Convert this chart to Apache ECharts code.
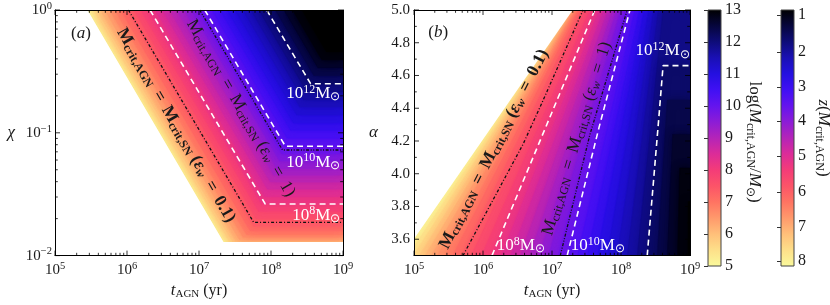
<!DOCTYPE html>
<html>
<head>
<meta charset="utf-8">
<script src="https://cdn.jsdelivr.net/npm/echarts@6.0.0/dist/echarts.min.js"></script>
<style>html,body{margin:0;padding:0;background:#fff;}#chart{width:830px;height:305px;}</style>
</head>
<body>
<div id="chart"></div>
<script>
// ================= DATA =================
// log10(M_crit,AGN / Msun) of each filled contour band (lower bound of band)
const contourLevels = [5.00,5.25,5.50,5.75,6.00,6.25,6.50,6.75,7.00,7.25,7.50,7.75,8.00,8.25,8.50,8.75,9.00,9.25,9.50,9.75,10.00,10.25,10.50,10.75,11.00,11.25,11.50,11.75,12.00,12.25,12.50,12.75,13.00];

// Panel (a): diagonal part of each contour, log10(t_AGN * chi)
const aLogTChi = [5.45,5.49,5.53,5.58,5.63,5.69,5.76,5.83,5.91,6.00,6.09,6.19,6.29,6.39,6.49,6.59,6.69,6.79,6.89,6.98,7.08,7.18,7.29,7.39,7.50,7.61,7.72,7.83,7.94,8.06,8.18,8.30,8.43];
// Panel (a): flat (t-independent) part of each contour, log10(chi)
const aLogChiFlat = [-1.89,-1.89,-1.89,-1.89,-1.88,-1.87,-1.85,-1.83,-1.80,-1.76,-1.70,-1.64,-1.58,-1.52,-1.46,-1.40,-1.345,-1.29,-1.23,-1.17,-1.11,-1.045,-0.98,-0.92,-0.855,-0.79,-0.73,-0.665,-0.60,-0.535,-0.47,-0.405,-0.34];
// Panel (a): lowest chi with a value, log10(chi)
const aLogChiMin = -1.89;

// Panel (b): log10 t_AGN of each contour at alpha = 3.5 and alpha = 5.0
const bLogTAtAlpha35 = [4.83,4.91,4.99,5.075,5.16,5.25,5.34,5.45,5.56,5.69,5.83,5.98,6.13,6.265,6.40,6.54,6.68,6.815,6.95,7.09,7.23,7.37,7.51,7.655,7.80,7.945,8.09,8.235,8.38,8.525,8.67,8.82,8.97];
const bLogTAtAlpha50 = [7.30,7.305,7.31,7.317,7.325,7.337,7.35,7.37,7.39,7.43,7.48,7.55,7.62,7.685,7.75,7.815,7.88,7.94,8.00,8.065,8.13,8.20,8.27,8.335,8.40,8.47,8.54,8.61,8.68,8.755,8.83,8.905,8.98];
// Panel (b): alpha where a contour turns flat (null = stays diagonal)
const bAlphaFlat = [null,null,null,null,null,null,null,null,null,null,null,null,null,null,null,null,null,null,null,null,null,null,null,null,null,null,null,null,4.66,4.45,4.24,4.035,3.83];

// Overlaid curves, [log10 t_AGN, log10 chi]  (panel a)
const aCurveEps01 = [[6.02,0],[7.76,-1.73],[9,-1.73]];
const aCurveEps1  = [[7.01,0],[8.16,-1.14],[9,-1.14]];
const aContour8   = [[6.32,0],[7.92,-1.58],[9,-1.58]];
const aContour10  = [[7.08,0],[8.20,-1.11],[9,-1.11]];
const aContour12  = [[7.94,0],[8.55,-0.60],[9,-0.60]];
// Overlaid curves, [log10 t_AGN, alpha]  (panel b)
const bCurveEps01 = [[5.71,3.5],[6.58,4.18],[6.83,4.41],[7.45,5.0]];
const bCurveEps1  = [[7.12,3.5],[7.55,4.24],[8.09,5.0]];
const bContour8   = [[6.13,3.5],[7.62,5.0]];
const bContour10  = [[7.22,3.5],[7.68,4.28],[8.13,5.0]];
const bContour12  = [[8.38,3.5],[8.54,4.3],[8.61,4.66],[9,4.66]];

// Ticks
const tMajorTicks = [1e5,1e6,1e7,1e8,1e9];
const logMinorSteps = [2,3,4,5,6,7,8,9];
const chiMajorTicks = [0.01,0.1,1];
const alphaLabelTicks = [3.6,3.8,4.0,4.2,4.4,4.6,4.8,5.0];
const alphaMinorTicks = [3.7,3.9,4.1,4.3,4.5,4.7,4.9];
const zTickLabels = ['1','2','3','4','5','6','7','8'];
const zTickLogM = [12.84,11.69,10.59,9.53,8.44,7.31,6.22,5.16];

// ================= STYLE =================
const FONT = 'Liberation Serif';
const INK = '#1a1a1a';
const cmapStops = [[5,'#fafa9c'],[5.5,'#fde08a'],[6,'#ffc07a'],[6.5,'#ff9a6c'],[7,'#ff7462'],[7.5,'#fc5468'],[8,'#f43c78'],[8.5,'#dc2c98'],[9,'#b424b8'],[9.5,'#8c1cd6'],[10,'#6414ee'],[10.5,'#4010f4'],[11,'#2410e0'],[11.5,'#1a10b4'],[12,'#0e0c78'],[12.5,'#06063c'],[13,'#000000']];
function hex2rgb(h){return [parseInt(h.slice(1,3),16),parseInt(h.slice(3,5),16),parseInt(h.slice(5,7),16)];}
function colorAt(v){
  v = Math.max(5, Math.min(13, v));
  for (let i=0;i<cmapStops.length-1;i++){
    const a=cmapStops[i], b=cmapStops[i+1];
    if (v<=b[0]){
      const f=(v-a[0])/(b[0]-a[0]); const ca=hex2rgb(a[1]), cb=hex2rgb(b[1]);
      return 'rgb('+ca.map((c,k)=>Math.round(c+(cb[k]-c)*f)).join(',')+')';
    }
  }
  return cmapStops[cmapStops.length-1][1];
}
const pow10 = x => Math.pow(10, x);
const minorOf = majors => { const out=[]; for (let i=0;i<majors.length-1;i++) logMinorSteps.forEach(m=>out.push(majors[i]*m)); return out; };
const BLUR = 8;

const tickRich = {
  b:{fontFamily:FONT,fontSize:15,color:INK},
  s:{fontFamily:FONT,fontSize:10.5,color:INK,padding:[0,0,8,0]}
};
const logLabel = v => { const e=Math.round(Math.log10(v)); return '{b|10}{s|'+(e<0?'\u2212'+(-e):e)+'}'; };
const nameRich = {
  i:{fontFamily:FONT,fontStyle:'italic',fontSize:17,color:INK},
  s:{fontFamily:FONT,fontSize:11,color:INK,padding:[7,0,0,0]},
  n:{fontFamily:FONT,fontSize:16,color:INK}
};
const frameLine = {show:true,onZero:false,lineStyle:{color:'#000',width:1}};

function logXAxis(grid, pos, withLabel){
  return {gridIndex:grid,type:'log',logBase:10,min:1e5,max:1e9,position:pos,z:10,
    axisLine:frameLine,axisTick:{show:false},splitLine:{show:false},minorTick:{show:false},
    axisLabel: withLabel?{formatter:logLabel,rich:tickRich,margin:5,showMinLabel:true,showMaxLabel:true}:{show:false},
    name: withLabel?'{i|t}{s|AGN}{n| (yr)}':'', nameLocation:'middle', nameGap:17, nameTextStyle:{rich:nameRich}};
}

// ---- filled contour bands ----
function bandStyle(i){
  const col = colorAt(contourLevels[i]+0.125);
  const st = {fill:col,stroke:col,lineWidth:0.5};
  if (i>0){ st.shadowBlur=BLUR; st.shadowColor=col; }
  return st;
}
function fillSeriesA(){
  return {type:'custom',xAxisIndex:0,yAxisIndex:0,clip:true,silent:true,z:1,
    data: contourLevels.map((L,i)=>[1e9,1,i]),
    renderItem(params, api){
      const i = api.value(2);
      const s = aLogTChi[i], k = Math.max(aLogChiFlat[i], aLogChiMin);
      const pts = [[s,0],[s-k,k],[9,k],[9,0]].map(p=>api.coord([pow10(p[0]),pow10(p[1])]));
      return {type:'polygon',shape:{points:pts},style:bandStyle(i)};
    }};
}
function maskSeriesA(){
  return {type:'custom',xAxisIndex:0,yAxisIndex:0,clip:true,silent:true,z:1,data:[[1e5,0.01,0]],
    renderItem(params, api){
      const s=aLogTChi[0], k=aLogChiMin;
      const pts=[[4.9,0.1],[s,0.1],[s,0],[s-k,k],[9.1,k],[9.1,-2.1],[4.9,-2.1]].map(p=>api.coord([pow10(p[0]),pow10(p[1])]));
      return {type:'polygon',shape:{points:pts},style:{fill:'#ffffff'}};
    }};
}
function fillSeriesB(){
  return {type:'custom',xAxisIndex:2,yAxisIndex:2,clip:true,silent:true,z:1,
    data: contourLevels.map((L,i)=>[1e9,4,i]),
    renderItem(params, api){
      const i = api.value(2);
      const b = bLogTAtAlpha35[i], t = bLogTAtAlpha50[i], fa = bAlphaFlat[i];
      let pts;
      if (fa==null) pts=[[b,3.5],[t,5],[9,5],[9,3.5]];
      else { const xk=b+(t-b)*(fa-3.5)/1.5; pts=[[b,3.5],[xk,fa],[9,fa],[9,3.5]]; }
      pts = pts.map(p=>api.coord([pow10(p[0]),p[1]]));
      return {type:'polygon',shape:{points:pts},style:bandStyle(i)};
    }};
}
function maskSeriesB(){
  return {type:'custom',xAxisIndex:2,yAxisIndex:2,clip:true,silent:true,z:1,data:[[1e5,3.5,0]],
    renderItem(params, api){
      const b=bLogTAtAlpha35[0], t=bLogTAtAlpha50[0];
      const e=(t-b)/1.5;
      const pts=[[b-0.1*e,3.4],[t+0.1*e,5.1],[4.5,5.1],[4.5,3.4]].map(p=>api.coord([pow10(p[0]),p[1]]));
      return {type:'polygon',shape:{points:pts},style:{fill:'#ffffff'}};
    }};
}
// ---- curves ----
const dashW = {color:'#ffffff',width:1.6,type:[6,4]};
const dashDot = {color:'#111',width:1.3,type:[3,2,1,2]};
const dashDotDot = {color:'#111',width:1.3,type:[3,1.6,1,1.6,1,1.6]};
function curve(xi, yi, pts, logY, style){
  return {type:'line',xAxisIndex:xi,yAxisIndex:yi,symbol:'none',silent:true,z:3,
    data: pts.map(p=>[pow10(p[0]), logY?pow10(p[1]):p[1]]), lineStyle:style};
}
// ---- ticks on all four sides ----
function tickSeries(xi, yi, xMaj, xMin, yMaj, yMin, xRef, yRef){
  const data=[];
  xMaj.forEach(v=>data.push([v,yRef,0,5])); xMin.forEach(v=>data.push([v,yRef,0,2.8]));
  yMaj.forEach(v=>data.push([xRef,v,1,5])); yMin.forEach(v=>data.push([xRef,v,1,2.8]));
  return {type:'custom',xAxisIndex:xi,yAxisIndex:yi,z:6,silent:true,data,
    renderItem(params, api){
      const cs=params.coordSys; const p=api.coord([api.value(0),api.value(1)]);
      const len=api.value(3); const st={stroke:'#000',lineWidth:0.8};
      if (api.value(2)===0) return {type:'group',children:[
        {type:'line',shape:{x1:p[0],y1:cs.y+cs.height,x2:p[0],y2:cs.y+cs.height-len},style:st},
        {type:'line',shape:{x1:p[0],y1:cs.y,x2:p[0],y2:cs.y+len},style:st}]};
      return {type:'group',children:[
        {type:'line',shape:{x1:cs.x,y1:p[1],x2:cs.x+len,y2:p[1]},style:st},
        {type:'line',shape:{x1:cs.x+cs.width,y1:p[1],x2:cs.x+cs.width-len,y2:p[1]},style:st}]};
    }};
}
// ---- text annotations placed in data coordinates ----
const wRich = {sp:{fontFamily:FONT,fontSize:12,fill:'#fff',padding:[0,0,8,0]}, sb:{fontFamily:FONT,fontSize:12,fill:'#fff',padding:[7,0,0,0]}};
function eqRich(bold){
  const w = bold?'bold':'normal';
  return {M:{fontFamily:FONT,fontSize:17.5,fontWeight:w,fill:INK},
    sb:{fontFamily:FONT,fontSize:12,fontWeight:w,fill:INK,padding:[7,0,0,0]},
    t:{fontFamily:FONT,fontSize:17.5,fontWeight:w,fill:INK},
    e:{fontFamily:FONT,fontSize:17.5,fontStyle:'italic',fontWeight:w,fill:INK},
    sw:{fontFamily:FONT,fontSize:12,fontStyle:'italic',fontWeight:w,fill:INK,padding:[7,0,0,0]}};
}
const eqText = eps => '{M|M}{sb|crit,AGN}{t| \u2009=\u2009 }{M|M}{sb|crit,SN}{t| (}{e|\u03b5}{sw|w}{t| \u2009=\u2009 '+eps+')}';
const letterRich = {i:{fontFamily:FONT,fontSize:17,fontStyle:'italic',fill:INK}};
function annSeries(xi, yi, items){
  return {type:'custom',xAxisIndex:xi,yAxisIndex:yi,z:8,silent:true,
    data: items.map((a,i)=>[a.x,a.y,i]),
    renderItem(params, api){
      const a=items[api.value(2)]; const p=api.coord([api.value(0),api.value(1)]);
      return {type:'text',x:p[0],y:p[1],rotation:(a.rot||0)*Math.PI/180,
        style:{text:a.text,rich:a.rich,fill:a.fill||INK,fontFamily:FONT,fontSize:a.size||17,
          align:a.align||'center',verticalAlign:'middle'}};
    }};
}
// ---- colour bars ----
function cbarSeries(xi, yi){
  const stops = cmapStops.map(s=>({offset:(13-s[0])/8,color:s[1]})).reverse();
  return {type:'custom',xAxisIndex:xi,yAxisIndex:yi,silent:true,z:2,data:[[0.5,9]],
    renderItem(params, api){
      const p1=api.coord([0,13]), p2=api.coord([1,5]);
      return {type:'rect',shape:{x:p1[0],y:p1[1],width:p2[0]-p1[0],height:p2[1]-p1[1]},
        style:{fill:{type:'linear',x:0,y:0,x2:0,y2:1,colorStops:stops},stroke:'#444',lineWidth:1}};
    }};
}

const annA = [
  {x:pow10(5.36),y:pow10(-0.19),text:'({i|a})',rich:letterRich,size:17},
  {x:pow10(6.68),y:pow10(-0.94),rot:-60,text:eqText('0.1'),rich:eqRich(true)},
  {x:pow10(7.58),y:pow10(-0.80),rot:-60,text:eqText('1'),rich:eqRich(false)},
  {x:pow10(8.965),y:pow10(-0.68),align:'right',fill:'#fff',text:'10{sp|12}M{sb|\u2299}',rich:wRich},
  {x:pow10(8.965),y:pow10(-1.24),align:'right',fill:'#fff',text:'10{sp|10}M{sb|\u2299}',rich:wRich},
  {x:pow10(8.965),y:pow10(-1.67),align:'right',fill:'#fff',text:'10{sp|8}M{sb|\u2299}',rich:wRich}
];
const annB = [
  {x:pow10(5.35),y:4.865,text:'({i|b})',rich:letterRich,size:17},
  {x:pow10(6.16),y:4.15,rot:63,text:eqText('0.1'),rich:eqRich(true)},
  {x:pow10(7.36),y:4.215,rot:73,text:eqText('1'),rich:eqRich(false)},
  {x:pow10(8.995),y:4.75,align:'right',fill:'#fff',text:'10{sp|12}M{sb|\u2299}',rich:wRich},
  {x:pow10(6.2),y:3.56,align:'left',fill:'#fff',text:'10{sp|8}M{sb|\u2299}',rich:wRich},
  {x:pow10(7.27),y:3.56,align:'left',fill:'#fff',text:'10{sp|10}M{sb|\u2299}',rich:wRich}
];

const titleRich = {i:{fontFamily:FONT,fontSize:17,fontStyle:'italic',fill:INK},s:{fontFamily:FONT,fontSize:12,fill:INK,padding:[7,0,0,0]},n:{fontFamily:FONT,fontSize:17,fill:INK}};

const chart = echarts.init(document.getElementById('chart'));
chart.setOption({
  animation:false,
  backgroundColor:'#ffffff',
  grid:[
    {left:55,top:10,width:288,height:256},
    {left:414,top:10,width:276,height:256},
    {left:708,top:10,width:13,height:256},
    {left:781,top:10,width:13,height:256}
  ],
  xAxis:[
    logXAxis(0,'bottom',true), logXAxis(0,'top',false),
    logXAxis(1,'bottom',true), logXAxis(1,'top',false),
    {gridIndex:2,type:'value',min:0,max:1,show:false},
    {gridIndex:3,type:'value',min:0,max:1,show:false}
  ],
  yAxis:[
    {gridIndex:0,type:'log',logBase:10,min:0.01,max:1,position:'left',z:10,axisLine:frameLine,axisTick:{show:false},splitLine:{show:false},
      axisLabel:{formatter:logLabel,rich:tickRich,margin:3,showMinLabel:true,showMaxLabel:true},
      name:'{i|\u03c7}',nameLocation:'middle',nameRotate:0,nameGap:40,nameTextStyle:{rich:nameRich}},
    {gridIndex:0,type:'log',logBase:10,min:0.01,max:1,position:'right',z:10,axisLine:frameLine,axisTick:{show:false},splitLine:{show:false},axisLabel:{show:false}},
    {gridIndex:1,type:'value',min:3.5,max:5,position:'left',z:10,axisLine:frameLine,axisTick:{show:false},splitLine:{show:false},
      axisLabel:{customValues:alphaLabelTicks,formatter:v=>v.toFixed(1),fontFamily:FONT,fontSize:15,color:INK,margin:4},
      name:'{i|\u03b1}',nameLocation:'middle',nameRotate:0,nameGap:36,nameTextStyle:{rich:nameRich}},
    {gridIndex:1,type:'value',min:3.5,max:5,position:'right',z:10,axisLine:frameLine,axisTick:{show:false},splitLine:{show:false},axisLabel:{show:false}},
    {gridIndex:2,type:'value',min:5,max:13,interval:1,position:'right',axisLine:{show:false},splitLine:{show:false},
      axisTick:{show:true,inside:true,length:4,lineStyle:{color:'#333'}},
      axisLabel:{fontFamily:FONT,fontSize:16,color:INK,margin:4}},
    {gridIndex:3,type:'value',min:5,max:13,position:'right',axisLine:{show:false},splitLine:{show:false},
      axisTick:{show:true,inside:true,length:4,customValues:zTickLogM,lineStyle:{color:'#333'}},
      axisLabel:{customValues:zTickLogM,fontFamily:FONT,fontSize:16,color:INK,margin:4,
        formatter:v=>{let bi=0;zTickLogM.forEach((m,i)=>{if(Math.abs(m-v)<Math.abs(zTickLogM[bi]-v))bi=i;});return zTickLabels[bi];}}}
  ],
  graphic:[
    {type:'text',x:754,y:142,rotation:-Math.PI/2,z:10,style:{text:'{n|log(}{i|M}{s|crit,AGN}{n|/}{i|M}{s|\u2299}{n|)}',fontFamily:FONT,fontSize:17,fill:INK,align:'center',verticalAlign:'middle',rich:titleRich}},
    {type:'text',x:823,y:138,rotation:-Math.PI/2,z:10,style:{text:'{i|z}{n|(}{i|M}{s|crit,AGN}{n|)}',fontFamily:FONT,fontSize:17,fill:INK,align:'center',verticalAlign:'middle',rich:titleRich}}
  ],
  series:[
    fillSeriesA(), maskSeriesA(), fillSeriesB(), maskSeriesB(),
    curve(0,0,aCurveEps01,true,dashDot), curve(0,0,aCurveEps1,true,dashDotDot),
    curve(0,0,aContour8,true,dashW), curve(0,0,aContour10,true,dashW), curve(0,0,aContour12,true,dashW),
    curve(2,2,bCurveEps01,false,dashDot), curve(2,2,bCurveEps1,false,dashDotDot),
    curve(2,2,bContour8,false,dashW), curve(2,2,bContour10,false,dashW), curve(2,2,bContour12,false,dashW),
    tickSeries(0,0,tMajorTicks,minorOf(tMajorTicks),chiMajorTicks,minorOf(chiMajorTicks),1e5,0.01),
    tickSeries(2,2,tMajorTicks,minorOf(tMajorTicks),alphaLabelTicks,alphaMinorTicks,1e5,3.5),
    annSeries(0,0,annA), annSeries(2,2,annB),
    cbarSeries(4,4), cbarSeries(5,5)
  ]
});
</script>
</body>
</html>
